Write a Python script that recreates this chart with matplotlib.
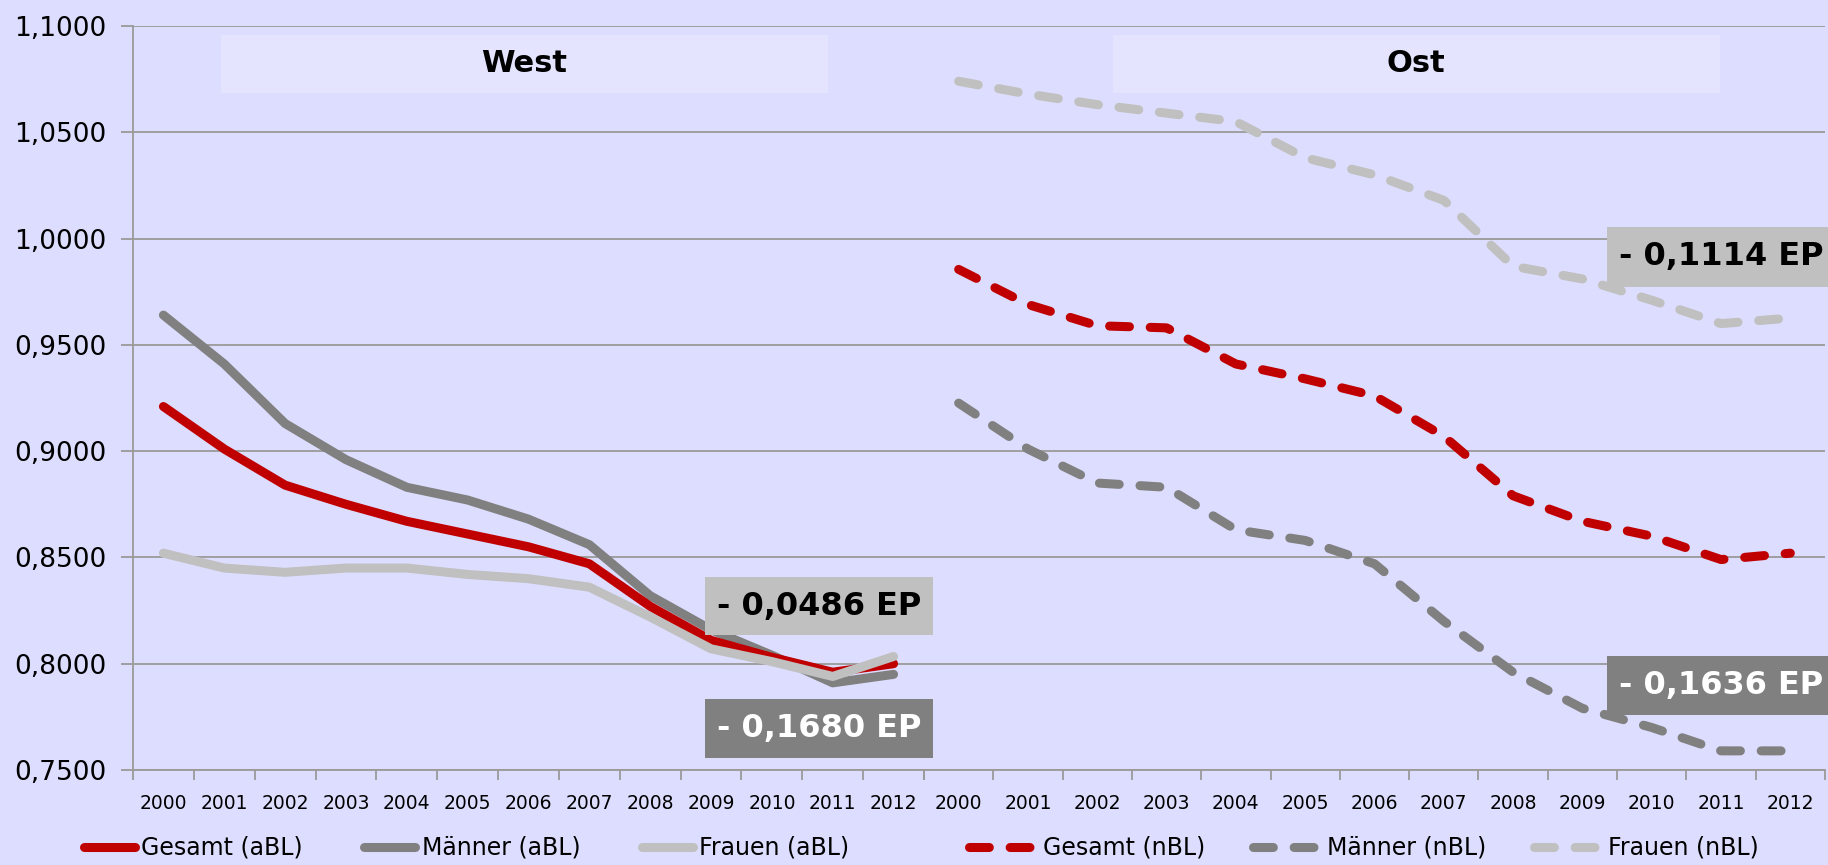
import numpy as np
import matplotlib
matplotlib.use("Agg")
from matplotlib import pyplot as plt
from matplotlib.patches import Rectangle
from matplotlib.ticker import FuncFormatter

W, H = 1828, 865

years = ["2000", "2001", "2002", "2003", "2004", "2005", "2006",
         "2007", "2008", "2009", "2010", "2011", "2012"]

# West (aBL)
gesamt_abl = [0.921, 0.901, 0.884, 0.875, 0.867, 0.861, 0.855, 0.847, 0.827, 0.811, 0.803, 0.796, 0.800]
maenner_abl = [0.964, 0.941, 0.913, 0.896, 0.883, 0.877, 0.868, 0.856, 0.832, 0.816, 0.804, 0.791, 0.795]
frauen_abl = [0.852, 0.845, 0.843, 0.845, 0.845, 0.842, 0.840, 0.836, 0.822, 0.807, 0.801, 0.794, 0.8034]

# Ost (nBL)
gesamt_nbl = [0.9855, 0.969, 0.959, 0.958, 0.941, 0.934, 0.926, 0.907, 0.879, 0.867, 0.860, 0.849, 0.852]
maenner_nbl = [0.9226, 0.901, 0.885, 0.883, 0.863, 0.858, 0.847, 0.820, 0.796, 0.779, 0.770, 0.759, 0.759]
frauen_nbl = [1.074, 1.068, 1.063, 1.059, 1.055, 1.038, 1.030, 1.018, 0.987, 0.981, 0.971, 0.960, 0.9626]

annotations = ["- 0,0486 EP", "- 0,1680 EP", "- 0,1114 EP", "- 0,1636 EP"]

BG = "#DDDDFF"
TITLEBOX = "#E4E4FF"
RED = "#C00000"
DARK = "#808080"
LIGHT = "#C0C0C0"
GRID = "#9A9A9A"

plt.rcParams['font.family'] = ['DejaVu Sans']

fig = plt.figure(figsize=(W / 100, H / 100), dpi=100, facecolor=BG)

bottom = 1 - 770 / H
height = 744 / H
axW = fig.add_axes([133 / W, bottom, 791 / W, height])
axO = fig.add_axes([924 / W, bottom, 901 / W, height], sharey=axW)

x = np.arange(len(years))
lw = 6.5

for ax in (axW, axO):
    ax.set_facecolor(BG)
    ax.set_xlim(-0.5, len(years) - 0.5)
    ax.set_ylim(0.75, 1.10)
    ax.set_yticks(np.arange(0.75, 1.1001, 0.05))
    ax.yaxis.grid(True, color=GRID, linewidth=1.3)
    ax.set_axisbelow(True)
    for s in ("top", "right"):
        ax.spines[s].set_visible(False)
    ax.spines["bottom"].set_color(GRID)
    ax.spines["bottom"].set_linewidth(1.3)
    ax.set_xticks(x)
    ax.set_xticklabels(years, fontsize=13.5)
    ax.set_xticks(np.arange(-0.5, len(years)), minor=True)
    ax.tick_params(axis="x", which="major", length=0, pad=17)
    ax.tick_params(axis="x", which="minor", length=7, color=GRID, width=1.3)

axW.spines["left"].set_color(GRID)
axW.spines["left"].set_linewidth(1.3)
axW.tick_params(axis="y", length=9, color=GRID, width=1.3, labelsize=19, pad=10)
axW.yaxis.set_major_formatter(FuncFormatter(lambda v, p: ("%.4f" % v).replace(".", ",")))
axO.spines["left"].set_visible(False)
axO.tick_params(axis="y", length=0, labelleft=False)

# West: solid lines
kw = dict(linewidth=lw, solid_capstyle="round", solid_joinstyle="round")
lm, = axW.plot(x, maenner_abl, color=DARK, label="Männer (aBL)", zorder=3, **kw)
lg, = axW.plot(x, gesamt_abl, color=RED, label="Gesamt (aBL)", zorder=4, **kw)
lf, = axW.plot(x, frauen_abl, color=LIGHT, label="Frauen (aBL)", zorder=5, **kw)

# Ost: dashed lines
kd = dict(linewidth=lw, dashes=(2.2, 2.3), dash_capstyle="round", dash_joinstyle="round")
og, = axO.plot(x, gesamt_nbl, color=RED, label="Gesamt (nBL)", zorder=4, **kd)
om, = axO.plot(x, maenner_nbl, color=DARK, label="Männer (nBL)", zorder=3, **kd)
of, = axO.plot(x, frauen_nbl, color=LIGHT, label="Frauen (nBL)", zorder=5, **kd)

# panel titles
for ax, x0, w, tx, name in ((axW, 0.111, 0.768, 0.494, "West"),
                            (axO, 0.210, 0.674, 0.546, "Ost")):
    ax.add_patch(Rectangle((x0, 0.91), w, 0.078, transform=ax.transAxes,
                           facecolor=TITLEBOX, edgecolor="none", zorder=1))
    ax.text(tx, 0.949, name, transform=ax.transAxes, ha="center", va="center",
            fontsize=22, fontweight="bold", zorder=2)

# annotation boxes (pixel boxes in figure space)
boxes = [(705, 577, 228, 58, LIGHT, "black"),
         (705, 699, 228, 59, DARK, "white"),
         (1607, 227, 221, 60, LIGHT, "black"),
         (1607, 656, 221, 59, DARK, "white")]
for (bx, by, bw, bh, fc, tc), txt in zip(boxes, annotations):
    fig.add_artist(Rectangle((bx / W, 1 - (by + bh) / H), bw / W, bh / H,
                             transform=fig.transFigure, facecolor=fc,
                             edgecolor="none", zorder=10))
    fig.text((bx + 12) / W, 1 - (by + bh / 2) / H, txt, color=tc,
             fontsize=23, fontweight="bold", ha="left", va="center", zorder=11)

leg_kw = dict(loc="center left", ncol=3, frameon=False, fontsize=17,
              borderaxespad=0, borderpad=0)
fig.legend(handles=[lg, lm, lf], bbox_to_anchor=(84 / W, 1 - 848 / H),
           handlelength=2.15, handletextpad=0.28, columnspacing=2.6, **leg_kw)
fig.legend(handles=[og, om, of], bbox_to_anchor=(969 / W, 1 - 848 / H),
           handlelength=2.6, handletextpad=0.55, columnspacing=2.0, **leg_kw)

fig.savefig("out.png", dpi=100, facecolor=BG)
